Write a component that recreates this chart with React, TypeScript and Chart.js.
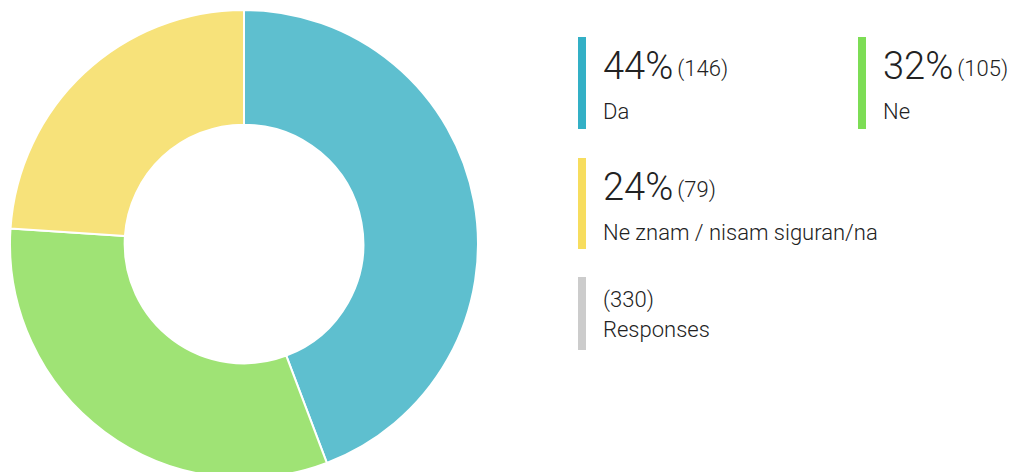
import React, { useEffect, useRef } from "react";
import { Chart, registerables } from "chart.js";

Chart.register(...registerables);

const categories = ["Da", "Ne", "Ne znam / nisam siguran/na"];
const counts = [146, 105, 79];
const percents = ["44%", "32%", "24%"];
const totalResponses = 330;
const totalLabel = "Responses";
const sliceColors = ["#5EBFCF", "#9FE375", "#F7E27A"];
const legendBarColors = ["#33B0C6", "#7DDD55", "#F7DD5E"];

const FONT = "Roboto, 'Noto Sans', sans-serif";

type ItemProps = {
  left: number;
  top: number;
  height: number;
  bar: string;
  big?: string;
  small: string;
  label: string;
};

const smallText: React.CSSProperties = {
  position: "absolute",
  left: 25,
  whiteSpace: "nowrap",
  lineHeight: "22px",
  fontSize: 22,
  fontWeight: 300,
  fontFamily: FONT,
  color: "#222",
};

function LegendItem({ left, top, height, bar, big, small, label }: ItemProps) {
  return (
    <div style={{ position: "absolute", left, top, height, width: 420 }}>
      <div style={{ position: "absolute", left: 0, top: 0, width: 8, height, background: bar }} />
      {big ? (
        <>
          <div
            style={{
              position: "absolute",
              left: 25,
              top: 42 - 32,
              whiteSpace: "nowrap",
              lineHeight: "38px",
              fontFamily: FONT,
              color: "#222",
            }}
          >
            <span style={{ fontSize: 38, fontWeight: 300 }}>{big}</span>
            <span
              style={{
                fontSize: 22,
                fontWeight: 300,
                marginLeft: 4,
                position: "relative",
                top: -3.5,
              }}
            >
              {small}
            </span>
          </div>
          <div style={{ ...smallText, top: 82 - 18.5 }}>{label}</div>
        </>
      ) : (
        <>
          <div style={{ ...smallText, top: 30 - 18.5 }}>{small}</div>
          <div style={{ ...smallText, top: 60 - 18.5 }}>{label}</div>
        </>
      )}
    </div>
  );
}

export default function App() {
  const canvasRef = useRef<HTMLCanvasElement | null>(null);

  useEffect(() => {
    if (!canvasRef.current) return;
    const chart = new Chart(canvasRef.current, {
      type: "doughnut",
      data: {
        labels: categories,
        datasets: [
          {
            data: counts,
            backgroundColor: sliceColors,
            borderColor: "#ffffff",
            borderWidth: 2,
          },
        ],
      },
      options: {
        animation: false,
        responsive: false,
        maintainAspectRatio: false,
        cutout: "51%",
        layout: { padding: 0 },
        plugins: {
          legend: { display: false },
          tooltip: { enabled: false },
        },
      },
    });
    return () => chart.destroy();
  }, []);

  const positions = [
    { left: 578, top: 37, height: 92 },
    { left: 858, top: 37, height: 92 },
    { left: 578, top: 158, height: 91 },
  ];

  return (
    <div style={{ position: "absolute", left: 0, top: 0, width: 1014, height: 472, overflow: "hidden", background: "#fff" }}>
      <canvas
        ref={canvasRef}
        width={470}
        height={470}
        style={{ position: "absolute", left: 9, top: 9, width: 470, height: 470 }}
      />
      {categories.map((c, i) => (
        <LegendItem
          key={c}
          left={positions[i].left}
          top={positions[i].top}
          height={positions[i].height}
          bar={legendBarColors[i]}
          big={percents[i]}
          small={`(${counts[i]})`}
          label={c}
        />
      ))}
      <LegendItem left={578} top={277} height={73} bar="#CCCCCC" small={`(${totalResponses})`} label={totalLabel} />
    </div>
  );
}
